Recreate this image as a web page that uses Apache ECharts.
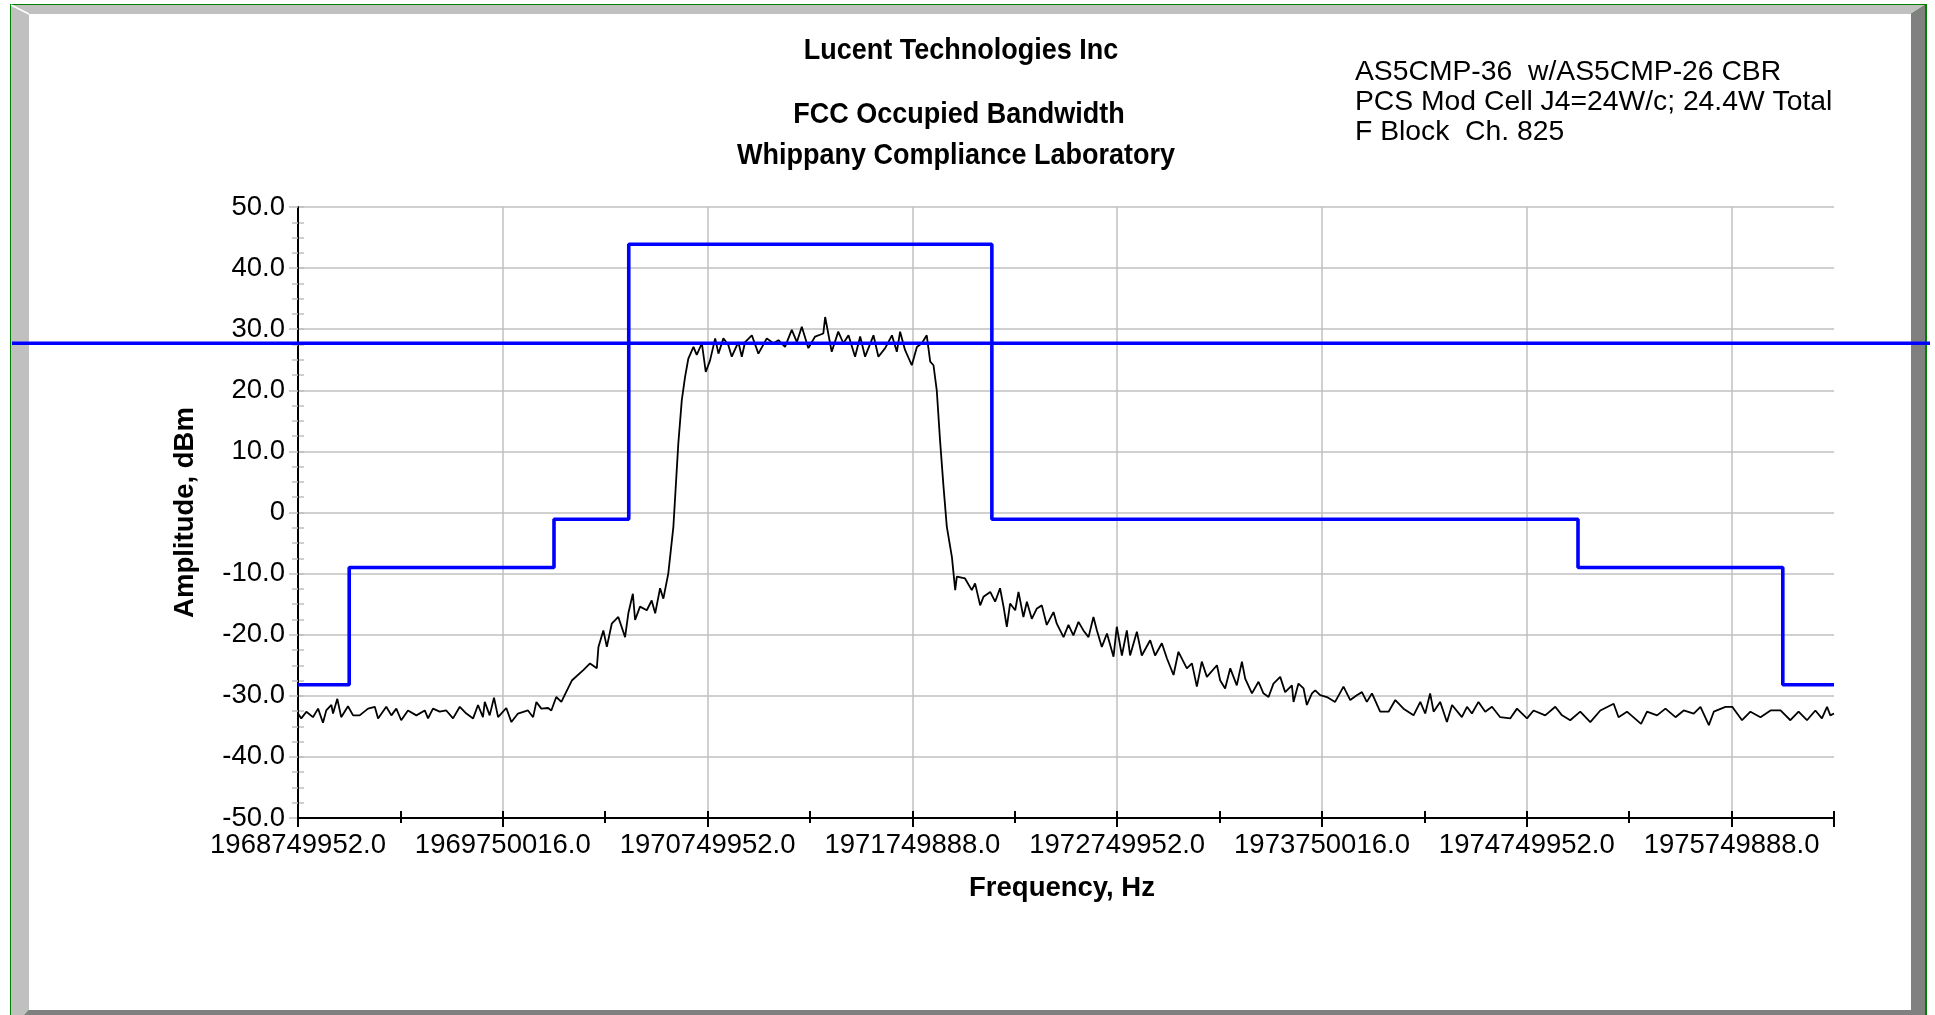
<!DOCTYPE html>
<html>
<head>
<meta charset="utf-8">
<script src="https://cdn.jsdelivr.net/npm/echarts@6/dist/echarts.min.js"></script>
<style>
html,body{margin:0;padding:0;background:#ffffff;}
#chart{width:1935px;height:1015px;}
</style>
</head>
<body>
<div id="chart"></div>
<script>
// ---------- text ----------
const titleLines = ['Lucent Technologies Inc', 'FCC Occupied Bandwidth', 'Whippany Compliance Laboratory'];
const noteLines = ['AS5CMP-36  w/AS5CMP-26 CBR', 'PCS Mod Cell J4=24W/c; 24.4W Total', 'F Block  Ch. 825'];
const xAxisName = 'Frequency, Hz';
const yAxisName = 'Amplitude, dBm';

// ---------- tick labels ----------
// x axis is expressed as MHz offset from the span start (0 .. 7.5 MHz)
const xTickLabels = ['1968749952.0', '1969750016.0', '1970749952.0', '1971749888.0',
                     '1972749952.0', '1973750016.0', '1974749952.0', '1975749888.0'];
const yTickLabels = ['-50.0', '-40.0', '-30.0', '-20.0', '-10.0', '0', '10.0', '20.0', '30.0', '40.0', '50.0'];

// ---------- emission mask (blue) ----------
const maskOffsetMHz = [0, 0.25, 0.25, 1.25, 1.25, 1.615, 1.615, 3.388, 3.388, 6.25, 6.25, 7.25, 7.25, 7.5];
const maskDbm       = [-28.2, -28.2, -9, -9, -1.1, -1.1, 43.9, 43.9, -1.1, -1.1, -9, -9, -28.2, -28.2];

// reference level line (blue, full width)
const refLevelDbm = 27.7;

// ---------- measured trace (black) ----------
const traceOffsetMHz = [
  0.000,0.016,0.041,0.073,0.098,0.122,0.138,0.163,0.171,0.192,0.211,0.244,0.269,0.301,0.342,0.375,0.391,0.431,0.456,0.480,
  0.504,0.537,0.578,0.619,0.635,0.659,0.692,0.724,0.757,0.790,0.822,0.855,0.879,0.903,0.912,0.936,0.957,0.977,1.017,1.042,
  1.074,1.123,1.148,1.164,1.188,1.221,1.237,1.261,1.286,1.302,1.337,1.393,1.426,1.459,1.467,1.491,1.508,1.532,1.564,1.597,
  1.613,1.635,1.646,1.670,1.703,1.727,1.744,1.768,1.784,1.808,1.833,1.857,1.874,1.890,1.906,1.931,1.947,1.972,1.991,2.012,
  2.037,2.053,2.077,2.101,2.118,2.150,2.167,2.183,2.216,2.248,2.289,2.321,2.346,2.378,2.411,2.436,2.460,2.492,2.525,2.565,
  2.574,2.606,2.638,2.663,2.688,2.720,2.745,2.769,2.810,2.834,2.867,2.900,2.924,2.940,2.964,2.997,3.022,3.046,3.070,3.087,
  3.103,3.119,3.135,3.152,3.168,3.193,3.209,3.217,3.257,3.290,3.306,3.331,3.347,3.380,3.404,3.428,3.445,3.461,3.477,3.502,
  3.518,3.542,3.559,3.583,3.608,3.632,3.656,3.689,3.705,3.738,3.762,3.786,3.811,3.835,3.860,3.884,3.901,3.925,3.950,3.982,
  3.998,4.023,4.047,4.063,4.096,4.120,4.161,4.185,4.218,4.243,4.275,4.299,4.340,4.365,4.389,4.413,4.438,4.487,4.503,4.527,
  4.552,4.584,4.609,4.625,4.658,4.690,4.714,4.739,4.763,4.796,4.820,4.853,4.861,4.885,4.910,4.926,4.951,4.967,4.991,5.024,
  5.064,5.105,5.138,5.170,5.195,5.219,5.244,5.284,5.325,5.358,5.398,5.447,5.480,5.504,5.528,5.545,5.577,5.610,5.635,5.683,
  5.708,5.732,5.764,5.797,5.830,5.870,5.919,5.952,6.001,6.033,6.090,6.139,6.172,6.212,6.261,6.310,6.359,6.424,6.448,6.489,
  6.558,6.587,6.636,6.677,6.726,6.766,6.815,6.848,6.889,6.913,6.970,7.003,7.051,7.092,7.141,7.190,7.239,7.287,7.327,7.368,
  7.409,7.441,7.466,7.482,7.500
];
const traceDbm = [
  -32.9,-33.7,-32.6,-33.5,-32.1,-34.4,-32.4,-31.5,-32.9,-30.5,-33.5,-31.7,-33.2,-33.2,-32.1,-31.8,-33.7,-31.8,-33.2,-32.1,
  -34.0,-32.4,-33.2,-32.4,-33.7,-32.1,-32.6,-32.4,-33.7,-31.8,-32.9,-33.7,-31.5,-33.5,-31.0,-33.2,-30.3,-33.5,-32.0,-34.3,
  -32.9,-32.4,-33.5,-31.0,-32.1,-32.0,-32.4,-30.2,-31.0,-29.9,-27.5,-25.8,-24.7,-25.5,-22.0,-19.3,-22.0,-18.2,-17.1,-20.4,
  -16.5,-13.3,-17.6,-15.4,-16.0,-14.4,-16.5,-12.4,-14.1,-10.0,-2.3,11.3,18.4,22.2,25.2,27.1,25.8,27.7,23.0,24.9,
  28.5,26.0,28.5,27.4,25.5,27.9,25.5,27.9,29.0,26.0,28.5,27.7,28.2,27.1,29.9,27.9,30.4,26.9,28.8,29.3,
  32.0,26.3,29.6,27.7,29.0,25.5,28.8,25.5,29.0,25.5,26.9,29.0,26.3,29.6,26.6,24.1,27.1,27.7,29.0,24.7,
  24.1,20.0,11.8,4.2,-2.3,-7.3,-12.7,-10.5,-10.8,-12.7,-11.6,-15.2,-13.8,-13.0,-14.6,-12.4,-15.4,-18.7,-14.9,-16.0,
  -13.0,-17.1,-14.6,-17.4,-15.7,-15.2,-18.4,-16.3,-18.2,-20.4,-18.4,-20.1,-17.9,-19.3,-20.4,-17.1,-19.3,-22.0,-19.8,-23.6,
  -18.7,-23.4,-19.3,-23.4,-19.5,-23.4,-20.9,-23.4,-21.4,-23.9,-26.6,-22.8,-25.5,-24.7,-28.5,-24.4,-26.9,-25.0,-27.5,-28.8,
  -25.5,-28.3,-24.4,-27.2,-29.6,-27.7,-29.6,-30.2,-28.0,-26.9,-29.4,-28.3,-31.0,-28.0,-28.8,-31.5,-29.6,-29.1,-29.9,-30.2,
  -31.0,-28.5,-30.7,-29.9,-29.4,-31.0,-29.6,-32.6,-32.6,-30.7,-32.1,-33.2,-31.0,-32.9,-29.6,-32.6,-31.0,-34.3,-31.5,-33.5,
  -31.8,-32.9,-31.0,-32.6,-31.8,-33.5,-33.7,-32.1,-33.7,-32.4,-33.2,-31.8,-33.2,-34.0,-32.6,-34.3,-32.4,-31.3,-33.5,-32.6,
  -34.6,-32.6,-33.2,-32.1,-33.5,-32.4,-32.9,-31.8,-34.8,-32.6,-31.8,-31.8,-34.0,-32.6,-33.5,-32.4,-32.4,-34.0,-32.6,-34.0,
  -32.4,-33.7,-31.8,-33.2,-32.9
];

// ---------- build ----------
const FONT = "'Liberation Sans', Arial, Helvetica, sans-serif";
const GRID_GRAY = '#c0c0c0';

const traceData = traceOffsetMHz.map((f, i) => [f, traceDbm[i]]);
const maskData = maskOffsetMHz.map((f, i) => [f, maskDbm[i]]);
const refData = [[0, refLevelDbm], [1, refLevelDbm]];

function xLabel(v) {
  const r = Math.round(v);
  if (Math.abs(v - r) < 1e-6 && r >= 0 && r < xTickLabels.length) return xTickLabels[r];
  return '';
}
function yLabel(v) {
  const idx = Math.round((v + 50) / 10);
  return yTickLabels[idx] !== undefined ? yTickLabels[idx] : '';
}

const chart = echarts.init(document.getElementById('chart'), null, {renderer: 'canvas', width: 1935, height: 1015});

const frame = [
  {type: 'rect', z: -10, silent: true, shape: {x: 10, y: 4, width: 1917, height: 1030}, style: {fill: '#008000'}},
  {type: 'polygon', z: -9, silent: true, shape: {points: [[11, 5], [1925, 5], [1911, 14], [29, 14], [29, 1010], [11, 1030]]}, style: {fill: '#c0c0c0'}},
  {type: 'polygon', z: -9, silent: true, shape: {points: [[1925, 5], [1925, 1030], [11, 1030], [29, 1010], [1911, 1010], [1911, 14]]}, style: {fill: '#808080'}},
  {type: 'line', z: -8, silent: true, shape: {x1: 11, y1: 5, x2: 29, y2: 14}, style: {stroke: '#ffffff', lineWidth: 1.5}},
  {type: 'rect', z: -8, silent: true, shape: {x: 29, y: 14, width: 1882, height: 996}, style: {fill: '#ffffff'}}
];

const titleX = [961, 959, 956];
const titleY = [51, 115, 156];
const titleTexts = titleLines.map((t, i) => ({
  type: 'text', z: 5, silent: true, x: titleX[i], y: titleY[i], scaleY: 1.06,
  style: {text: t, font: 'bold 27px ' + FONT, fill: '#000', align: 'center', verticalAlign: 'middle'}
}));
const noteY = [72, 102, 132];
const noteTexts = noteLines.map((t, i) => ({
  type: 'text', z: 5, silent: true, x: 1355, y: noteY[i],
  style: {text: t, font: '28.3px ' + FONT, fill: '#000', align: 'left', verticalAlign: 'middle'}
}));

const option = {
  animation: false,
  backgroundColor: 'transparent',
  graphic: {elements: frame.concat(titleTexts, noteTexts)},
  grid: [
    {left: 298, top: 207, width: 1536, height: 611, containLabel: false},
    {left: 12, top: 207, width: 1918, height: 611, containLabel: false}
  ],
  xAxis: [
    { // main axis with labels
      type: 'value', gridIndex: 0, min: 0, max: 7.5, interval: 1, position: 'bottom',
      name: xAxisName, nameLocation: 'middle', nameGap: 56,
      nameTextStyle: {fontFamily: FONT, fontSize: 27.5, fontWeight: 'bold', color: '#000', padding: [0, 8, 0, 0]},
      axisLine: {show: true, onZero: false, lineStyle: {color: '#000', width: 2}},
      axisTick: {show: true, inside: false, length: 9, lineStyle: {color: '#000', width: 2}},
      axisLabel: {show: true, margin: 13.5, fontFamily: FONT, fontSize: 27.5, color: '#000', formatter: xLabel, hideOverlap: false},
      splitLine: {show: true, showMinLine: false, showMaxLine: false, lineStyle: {color: GRID_GRAY, width: 1.5}},
      z: 3
    },
    { // inside ticks (upper half of crossing ticks)
      type: 'value', gridIndex: 0, min: 0, max: 7.5, interval: 0.5, position: 'bottom',
      axisLine: {show: false, onZero: false},
      axisTick: {show: true, inside: true, length: 7, lineStyle: {color: '#000', width: 2}},
      axisLabel: {show: false}, splitLine: {show: false}, z: 3
    },
    { // short outside ticks at half steps
      type: 'value', gridIndex: 0, min: 0, max: 7.5, interval: 0.5, position: 'bottom',
      axisLine: {show: false, onZero: false},
      axisTick: {show: true, inside: false, length: 5, lineStyle: {color: '#000', width: 2}},
      axisLabel: {show: false}, splitLine: {show: false}, z: 3
    },
    { // full-width reference line axis
      type: 'value', gridIndex: 1, min: 0, max: 1, show: false
    }
  ],
  yAxis: [
    {
      type: 'value', gridIndex: 0, min: -50, max: 50, interval: 10, position: 'left',
      name: yAxisName, nameLocation: 'middle', nameGap: 99, nameRotate: 90,
      nameTextStyle: {fontFamily: FONT, fontSize: 27.5, fontWeight: 'bold', color: '#000'},
      axisLine: {show: true, onZero: false, lineStyle: {color: '#000', width: 2}},
      axisTick: {show: true, inside: false, length: 9, lineStyle: {color: GRID_GRAY, width: 1.5}},
      minorTick: {show: true, splitNumber: 4, length: 6, lineStyle: {color: GRID_GRAY, width: 1.5}},
      axisLabel: {show: true, margin: 13, padding: [8, 0, 0, 0], fontFamily: FONT, fontSize: 27.5, color: '#000', formatter: yLabel},
      splitLine: {show: true, lineStyle: {color: GRID_GRAY, width: 1.5}},
      z: 3
    },
    {
      type: 'value', gridIndex: 0, min: -50, max: 50, interval: 2.5, position: 'left',
      axisLine: {show: false, onZero: false},
      axisTick: {show: true, inside: true, length: 6, lineStyle: {color: GRID_GRAY, width: 1.5}},
      axisLabel: {show: false}, splitLine: {show: false}, z: 2
    },
    {
      type: 'value', gridIndex: 1, min: -50, max: 50, show: false
    }
  ],
  series: [
    {
      name: 'Trace', type: 'line', xAxisIndex: 0, yAxisIndex: 0, data: traceData,
      showSymbol: false, symbol: 'none', sampling: null, smooth: false,
      lineStyle: {color: '#000000', width: 1.8}, z: 4, silent: true
    },
    {
      name: 'Mask', type: 'line', xAxisIndex: 0, yAxisIndex: 0, data: maskData,
      showSymbol: false, symbol: 'none',
      lineStyle: {color: '#0000ff', width: 3.6}, z: 5, silent: true
    },
    {
      name: 'Reference', type: 'line', xAxisIndex: 3, yAxisIndex: 2, data: refData,
      showSymbol: false, symbol: 'none', clip: false,
      lineStyle: {color: '#0000ff', width: 3.6}, z: 6, silent: true
    }
  ]
};
chart.setOption(option);
</script>
</body>
</html>
